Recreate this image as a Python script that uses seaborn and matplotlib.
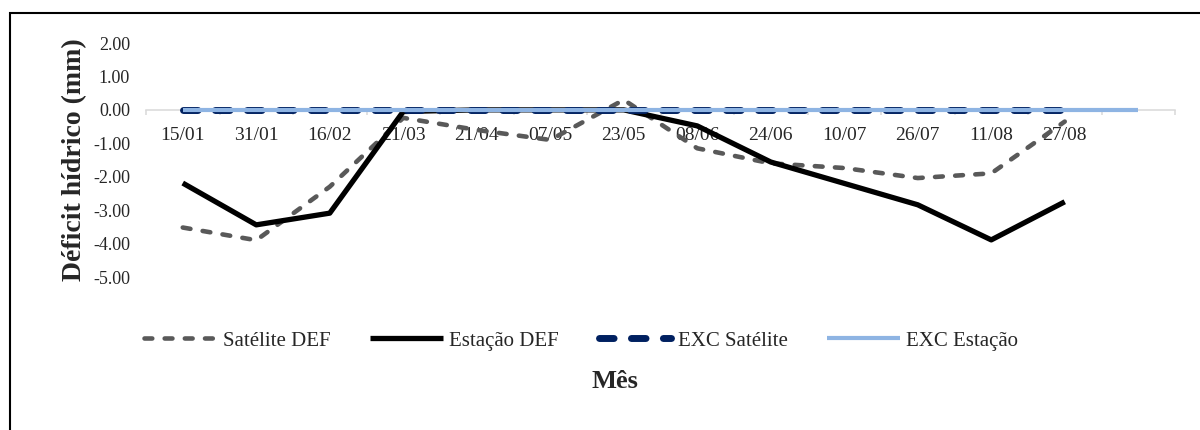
import numpy as np
import pandas as pd
import seaborn as sns
import matplotlib.pyplot as plt
from matplotlib.ticker import FixedLocator, FuncFormatter

# datas (ultima categoria sem rotulo)
meses = ['15/01', '31/01', '16/02', '21/03', '21/04', '07/05', '23/05',
         '08/06', '24/06', '10/07', '26/07', '11/08', '27/08', '']

sat_def = [-3.52, -3.90, -2.30, -0.24, -0.60, -0.90, 0.30,
           -1.15, -1.60, -1.74, -2.04, -1.90, -0.35]
est_def = [-2.19, -3.44, -3.09, -0.05, 0.00, 0.00, 0.00,
           -0.48, -1.56, -2.20, -2.84, -3.89, -2.75]
exc_sat = [0.00] * 13
exc_est = [0.00] * 14

yticks = [-5, -4, -3, -2, -1, 0, 1, 2]

sns.set_theme(style='white')
plt.rcParams['font.family'] = ['Liberation Serif', 'DejaVu Serif']
plt.rcParams['axes.unicode_minus'] = False

fig = plt.figure(figsize=(12, 4.3), dpi=100)
ax = fig.add_axes([146/1200, 1 - 277/430, (1175 - 146)/1200, (277 - 43)/430])

series = [
    ('Satélite DEF', sat_def, '#595959', 3.3, (1.7, 2.7)),
    ('Estação DEF', est_def, '#000000', 3.8, None),
    ('EXC Satélite', exc_sat, '#002060', 5.0, (2.1, 2.5)),
    ('EXC Estação', exc_est, '#8EB4E3', 3.0, None),
]
for name, vals, cor, lw, dash in series:
    sns.lineplot(x=np.arange(len(vals)), y=vals, ax=ax, color=cor,
                 linewidth=lw, label=name)
    ln = ax.lines[-1]
    ln.set_solid_capstyle('butt')
    if dash is not None:
        ln.set_dashes(dash)
        ln.set_dash_capstyle('round')

ax.set_xlim(-0.5, len(meses) - 0.5)
ax.set_ylim(-5, 2)

for s in ['left', 'top', 'right']:
    ax.spines[s].set_visible(False)
ax.spines['bottom'].set_position(('data', 0))
ax.spines['bottom'].set_color('#d9d9d9')
ax.spines['bottom'].set_linewidth(1.1)
ax.spines['bottom'].set_zorder(0)

ax.set_xticks(np.arange(len(meses)))
ax.set_xticklabels(meses, fontsize=14)
ax.xaxis.set_minor_locator(FixedLocator(np.arange(len(meses) + 1) - 0.5))
ax.tick_params(axis='x', which='major', length=0, pad=12)
ax.tick_params(axis='x', which='minor', length=3.6, width=1.1,
               color='#d9d9d9', direction='out', bottom=True)

ax.set_yticks(yticks)
ax.yaxis.set_major_formatter(FuncFormatter(lambda v, p: f'{v:.2f}'))
ax.tick_params(axis='y', length=0, pad=11.5, labelsize=13)

ax.set_xlabel('')
ax.set_ylabel('Déficit hídrico (mm)', fontsize=20, fontweight='bold', labelpad=4)

h, l = ax.get_legend_handles_labels()
ax.get_legend().remove()
fig.legend(h, l, loc='center', bbox_to_anchor=(581/1200, 1 - 341/430), ncol=4,
           frameon=False, fontsize=15, handlelength=3.5, handletextpad=0.3,
           columnspacing=1.9)

fig.text(615/1200, 1 - 382/430, 'Mês', ha='center', va='center',
         fontsize=19, fontweight='bold')

# moldura externa
fig.patches.append(plt.Rectangle((10/1200, -0.05), 1.1, 1.05 - 13/430,
                                 transform=fig.transFigure, fill=False,
                                 edgecolor='black', linewidth=1.5))

fig.savefig('out.png', dpi=100)
